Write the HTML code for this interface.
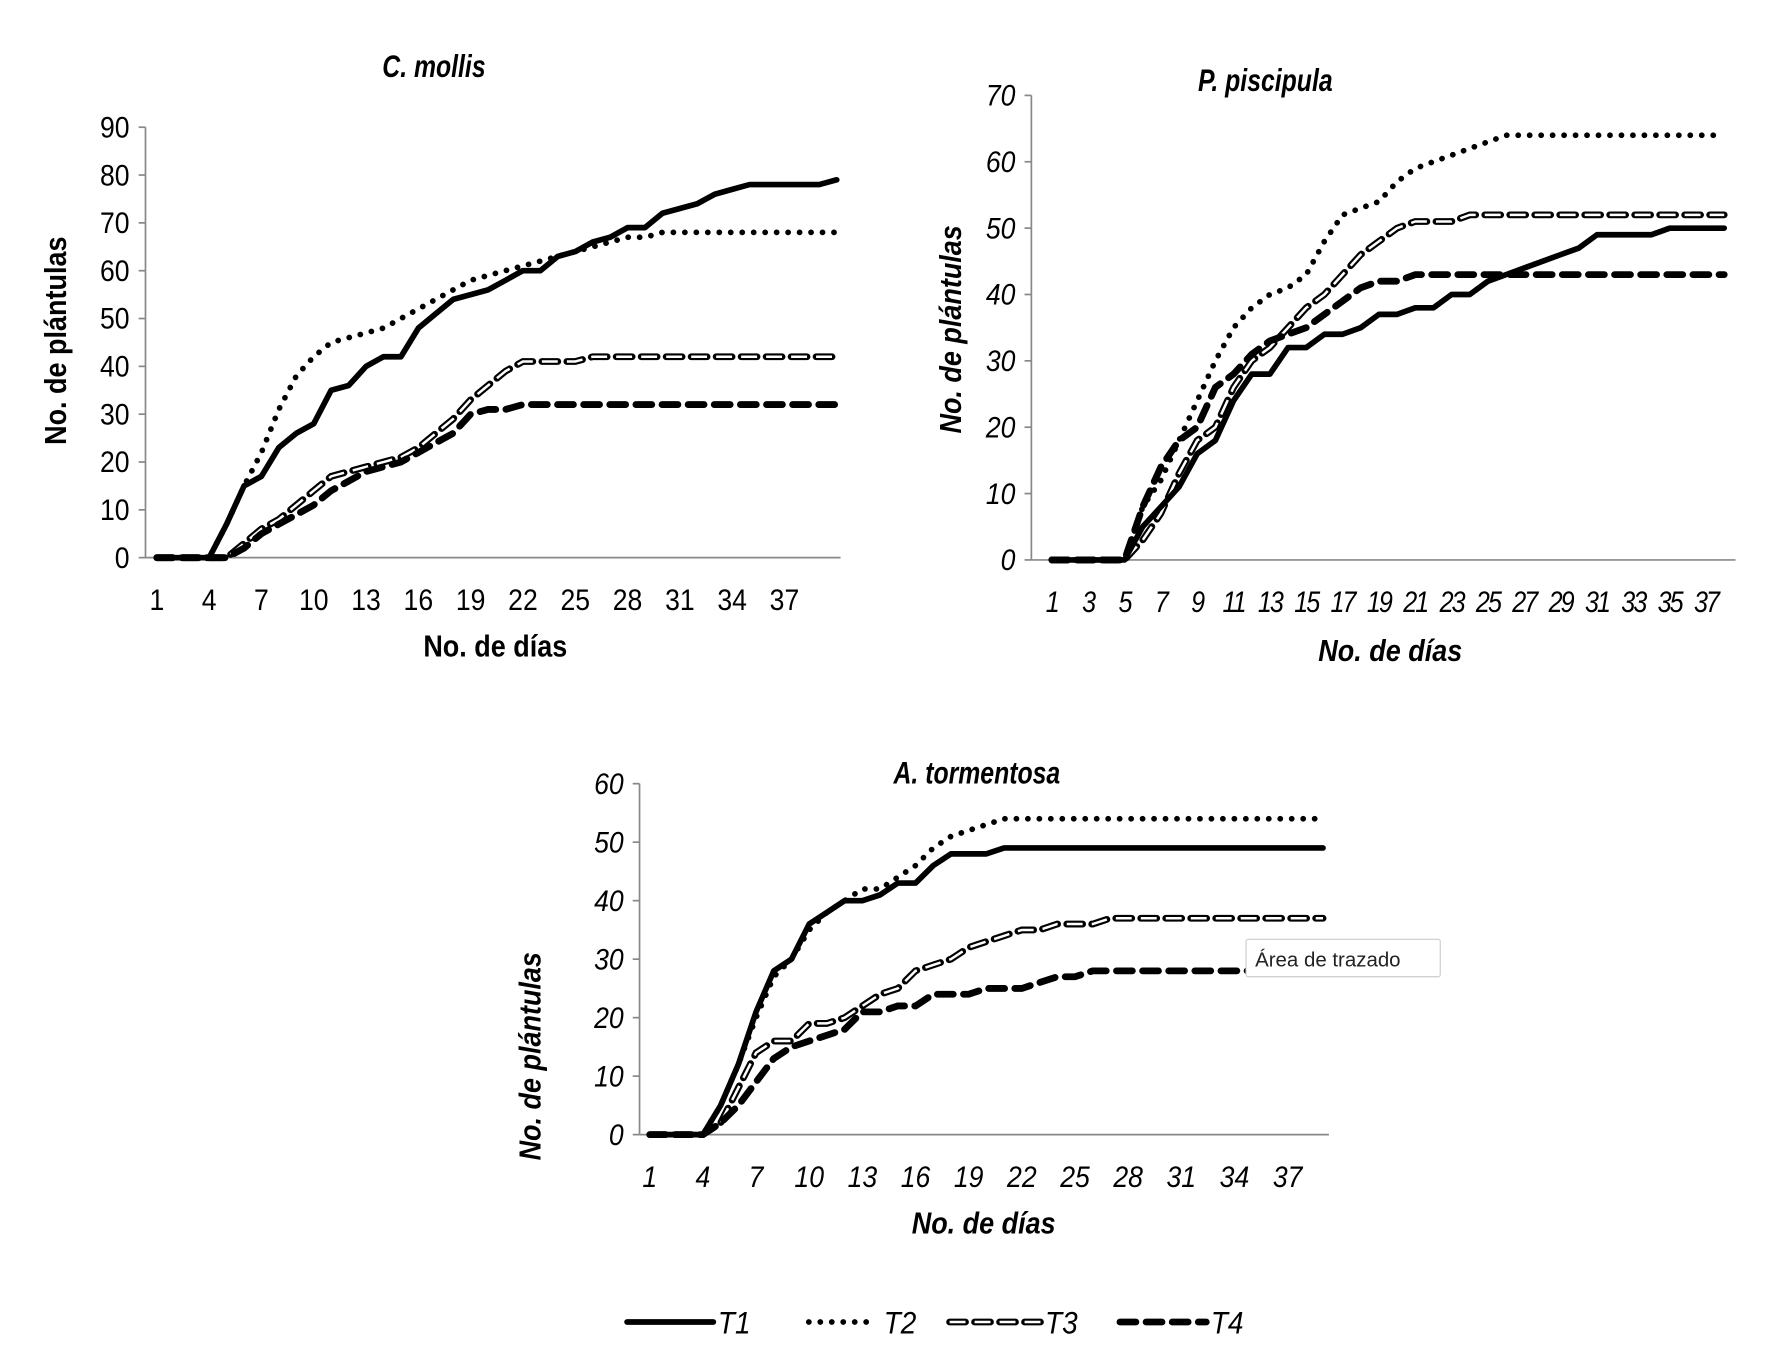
<!DOCTYPE html>
<html><head><meta charset="utf-8"><style>
html,body{margin:0;padding:0;background:#fff;}
svg{display:block;font-family:"Liberation Sans",sans-serif;}
</style></head><body>
<svg id="fig" width="1772" height="1372" viewBox="0 0 1560 1208" xmlns="http://www.w3.org/2000/svg"></svg>
<script>
// ---- data ----
const molDays = 40;
const molT1 = [0,0,0,0,7,15,17,23,26,28,35,36,40,42,42,48,51,54,55,56,58,60,60,63,64,66,67,69,69,72,73,74,76,77,78,78,78,78,78,79];
const molT2 = [0,0,0,0,7,15,22,31,38,42,45,46,47,48,50,52,54,56,58,59,60,61,62,63,64,65,66,67,67,68,68,68,68,68,68,68,68,68,68,68];
const molT3 = [0,0,0,0,0,3,6,8,11,14,17,18,19,20,21,23,26,29,33,36,39,41,41,41,41,42,42,42,42,42,42,42,42,42,42,42,42,42,42,42];
const molT4 = [0,0,0,0,0,2,5,7,9,11,14,16,18,19,20,22,24,26,30,31,31,32,32,32,32,32,32,32,32,32,32,32,32,32,32,32,32,32,32,32];
const molXTicks = [1,4,7,10,13,16,19,22,25,28,31,34,37];
const molYTicks = [0,10,20,30,40,50,60,70,80,90];

const pisT1 = [0,0,0,0,0,5,8,11,16,18,24,28,28,32,32,34,34,35,37,37,38,38,40,40,42,43,44,45,46,47,49,49,49,49,50,50,50,50];
const pisT2 = [0,0,0,0,0,8,12,18,24,30,35,38,40,41,43,48,52,53,54,57,59,60,61,62,63,64,64,64,64,64,64,64,64,64,64,64,64,64];
const pisT3 = [0,0,0,0,0,3,7,13,18,20,26,30,32,35,38,40,43,46,48,50,51,51,51,52,52,52,52,52,52,52,52,52,52,52,52,52,52,52];
const pisT4 = [0,0,0,0,0,8,14,18,20,26,28,31,33,34,35,37,39,41,42,42,43,43,43,43,43,43,43,43,43,43,43,43,43,43,43,43,43,43];
const pisXTicks = [1,3,5,7,9,11,13,15,17,19,21,23,25,27,29,31,33,35,37];
const pisYTicks = [0,10,20,30,40,50,60,70];

const torT1 = [0,0,0,0,5,12,21,28,30,36,38,40,40,41,43,43,46,48,48,48,49,49,49,49,49,49,49,49,49,49,49,49,49,49,49,49,49,49,49];
const torT2 = [0,0,0,0,5,12,20,27,30,35,38,40,42,42,44,46,49,51,52,53,54,54,54,54,54,54,54,54,54,54,54,54,54,54,54,54,54,54,54];
const torT3 = [0,0,0,0,2,8,14,16,16,19,19,20,22,24,25,28,29,30,32,33,34,35,35,36,36,36,37,37,37,37,37,37,37,37,37,37,37,37,37];
const torT4 = [0,0,0,0,2,5,9,13,15,16,17,18,21,21,22,22,24,24,24,25,25,25,26,27,27,28,28,28,28,28,28,28,28,28,28,28,28,28,28];
const torXTicks = [1,4,7,10,13,16,19,22,25,28,31,34,37];
const torYTicks = [0,10,20,30,40,50,60];

const legendLabels = ['T1','T2','T3','T4'];

const NS='http://www.w3.org/2000/svg';
const svg=document.getElementById('fig');
function mk(tag,attrs,parent){const e=document.createElementNS(NS,tag);for(const k in attrs)e.setAttribute(k,attrs[k]);(parent||svg).appendChild(e);return e;}
function narrow(x,y,s){return `translate(${x},${y}) scale(${s},1) translate(${-x},${-y})`;}

function styleLine(g,pts,kind){
  const d='M'+pts.map(p=>p[0].toFixed(1)+','+p[1].toFixed(1)).join('L');
  if(kind===0){return mk('path',{d,fill:'none',stroke:'#000','stroke-width':5,'stroke-linejoin':'round','stroke-linecap':'round'},g);}
  if(kind===1){return mk('path',{d,fill:'none',stroke:'#000','stroke-width':5,'stroke-dasharray':'0.1 10','stroke-linecap':'round'},g);}
  if(kind===2){mk('path',{d,fill:'none',stroke:'#000','stroke-width':6,'stroke-dasharray':'14 8','stroke-linecap':'round'},g);
    return mk('path',{d,fill:'none',stroke:'#fff','stroke-width':2.2,'stroke-dasharray':'14 8','stroke-linecap':'butt'},g);}
  return mk('path',{d,fill:'none',stroke:'#000','stroke-width':6,'stroke-dasharray':'14 9','stroke-linecap':'round'},g);
}

function chart(cfg){
  const g=mk('g',{});
  
  
  const sx=d=>cfg.x0+(d-1)*cfg.step;
  const sy=v=>cfg.y0-(v/cfg.ymax)*(cfg.y0-cfg.ytop);
  const fs=cfg.italic?'italic':'normal';
  const ya=mk('line',{x1:cfg.ax,y1:cfg.ytop,x2:cfg.ax,y2:cfg.y0,stroke:'#888','stroke-width':1.5},g);
  
  const xa=mk('line',{x1:cfg.ax,y1:cfg.y0,x2:cfg.axEnd,y2:cfg.y0,stroke:'#888','stroke-width':1.5},g);
  
  cfg.yTicks.forEach(v=>{
    mk('line',{x1:cfg.ax-6,y1:sy(v),x2:cfg.ax,y2:sy(v),stroke:'#888','stroke-width':1.5},g);
    const x=cfg.ax-14,y=sy(v)+9;
    const t=mk('text',{x,y,'text-anchor':'end','font-size':26,'font-style':fs,transform:narrow(x,y,0.9)},g);
    t.textContent=v;
  });
  cfg.xTicks.forEach(d=>{
    const x=sx(d),y=cfg.y0+46;
    const t=mk('text',{x,y,'text-anchor':'middle','font-size':26,'font-style':fs,'letter-spacing':cfg.ls||0,transform:narrow(x,y,cfg.tn||0.9)},g);
    t.textContent=d;
  });
  const title=mk('text',{x:cfg.tx,y:cfg.ty,'text-anchor':'middle','font-size':28,'font-weight':'bold','font-style':'italic',transform:narrow(cfg.tx,cfg.ty,0.78)},g);
  title.textContent=cfg.title;
  const xt=mk('text',{x:cfg.xtx,y:cfg.xty,'text-anchor':'middle','font-size':27,'font-weight':'bold','font-style':fs,transform:narrow(cfg.xtx,cfg.xty,0.88)},g);
  xt.textContent='No. de días';
  const yt=mk('text',{x:0,y:0,'text-anchor':'middle','font-size':27,'font-weight':'bold','font-style':fs,transform:`translate(${cfg.ytx},${cfg.yty}) rotate(-90) scale(0.88,1)`},g);
  yt.textContent='No. de plántulas';
  [[2,cfg.s[2]],[3,cfg.s[3]],[1,cfg.s[1]],[0,cfg.s[0]]].forEach(([k,arr])=>{
    const pts=arr.map((v,i)=>[sx(i+1),sy(v)]);
    const p=styleLine(g,pts,k);
    
    
  });
}

chart({name:'chart-c-mollis',title:'C. mollis',tx:382,ty:68,ax:128,axEnd:740,x0:138,step:15.35,y0:491,ytop:112,ymax:90,
  xTicks:molXTicks,yTicks:molYTicks,italic:false,xtx:436,xty:578,ytx:58,yty:300,s:[molT1,molT2,molT3,molT4]});
chart({name:'chart-p-piscipula',title:'P. piscipula',tx:1114,ty:80,ax:908,axEnd:1528,x0:926,step:16.0,y0:493,ytop:84,ymax:70,
  xTicks:pisXTicks,yTicks:pisYTicks,italic:true,ls:-2,tn:0.85,xtx:1224,xty:582,ytx:846,yty:290,s:[pisT1,pisT2,pisT3,pisT4]});
chart({name:'chart-a-tormentosa',title:'A. tormentosa',tx:860,ty:690,ax:563,axEnd:1170,x0:572,step:15.6,y0:999,ytop:690,ymax:60,
  xTicks:torXTicks,yTicks:torYTicks,italic:true,xtx:866,xty:1086,ytx:476,yty:930,s:[torT1,torT2,torT3,torT4]});

const tip=mk('g',{});


mk('rect',{x:1097,y:827,width:171,height:33,fill:'#fff',stroke:'#ccc','stroke-width':1,rx:2},tip);
const tt=mk('text',{x:1105,y:851,'font-size':18,fill:'#222'},tip);tt.textContent='Área de trazado';

const lg=mk('g',{});


const legX=[[552,628,632],[712,770,778],[836,918,920],[986,1062,1066]];
legendLabels.forEach((lab,k)=>{
  const e=mk('g',{},lg);
  
  
  styleLine(e,[[legX[k][0],1164],[legX[k][1],1164]],k);
  const x=legX[k][2],y=1174;
  const t=mk('text',{x,y,'font-size':28,'font-style':'italic',transform:narrow(x,y,0.88)},e);t.textContent=lab;
});
</script>
</body></html>
